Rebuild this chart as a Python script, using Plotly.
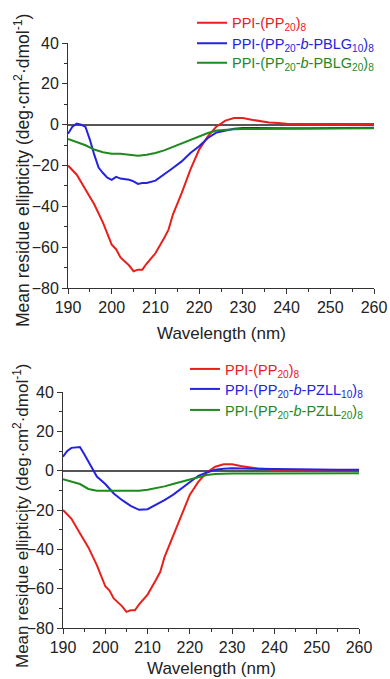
import plotly.graph_objects as go

# ---------------- data ----------------
# PPI-(PP20)8 (identical in both panels)
wl_pp20 = [190, 192, 194, 196, 198, 200, 201, 202, 204, 205, 206, 207, 208, 210, 212, 213, 214,
           216, 218, 220, 222, 224, 225, 226, 228, 230, 232, 234, 236, 238, 240, 245, 250, 255, 260]
pp20 = [-20, -24.5, -31.8, -39, -48, -58.8, -61, -65, -69, -71.8, -71, -71, -68, -63, -55.5, -51.4, -44,
        -33.5, -22, -12.2, -5.7, -0.8, 0.5, 2, 3.3, 3.3, 2.4, 1.6, 1.1, 0.8, 0.5, 0.3, 0.3, 0.3, 0.3]

# PPI-(PP20-b-PBLG10)8
wl_pblg10 = [190, 191, 192, 193, 194, 195, 196, 197, 198, 199, 200, 201, 202, 204, 205, 206, 207, 208,
             210, 212, 214, 216, 218, 220, 222, 224, 226, 228, 230, 235, 240, 245, 250, 255, 260]
pblg10 = [-4.5, -1, 0.5, 0, -1.1, -7.3, -14.7, -21, -23.7, -26, -27, -25.6, -26.4, -27, -27.8, -29, -28.6, -28.6,
          -27.4, -24.5, -21.2, -18, -13.9, -10.6, -6.5, -3.8, -2.8, -2, -1.6, -1.8, -1.8, -1.7, -1.6, -1.5, -1.5]

# PPI-(PP20-b-PBLG20)8
wl_pblg20 = [190, 192, 194, 196, 198, 200, 202, 204, 206, 208, 210, 212, 214, 216, 218, 220, 222, 224,
             226, 228, 230, 235, 240, 245, 250, 255, 260]
pblg20 = [-7, -8.7, -10.1, -12.2, -13.5, -14.2, -14.2, -14.7, -15.2, -14.7, -13.9, -12.6, -10.9, -9.3, -7.3,
          -5.7, -4.1, -2.9, -2.4, -2.2, -2.1, -2.1, -2, -2, -1.9, -1.9, -1.8]

# PPI-(PP20-b-PZLL10)8
wl_pzll10 = [190, 191, 192, 194, 195, 196, 197, 198, 200, 202, 204, 206, 208, 210, 212, 214, 216, 218,
             220, 222, 224, 226, 228, 230, 235, 240, 245, 250, 255, 260]
pzll10 = [7.1, 10, 11.6, 12, 8.5, 4.3, 0.9, -3, -6.8, -11.6, -15, -17.9, -19.9, -19.6, -17.4, -15, -12.3, -9,
          -5.6, -2.6, -0.9, 0.5, 1, 1.2, 1, 0.8, 0.7, 0.6, 0.5, 0.5]

# PPI-(PP20-b-PZLL20)8
wl_pzll20 = [190, 192, 194, 196, 198, 200, 202, 204, 206, 208, 210, 212, 214, 216, 218, 220, 222, 224,
             226, 228, 230, 235, 240, 245, 250, 255, 260]
pzll20 = [-4.3, -5.4, -6.8, -9.3, -10.2, -10.2, -10.2, -10.5, -10.4, -10.2, -9.7, -8.9, -8, -6.8, -5.6,
          -4.3, -3.1, -2.2, -1.7, -1.5, -1.4, -1.5, -1.5, -1.5, -1.4, -1.4, -1.3]

x_ticks = [190, 200, 210, 220, 230, 240, 250, 260]
y_ticks = [-80, -60, -40, -20, 0, 20, 40]

RED = "#e8201c"
BLUE = "#2424e0"
GREEN = "#1e8a1e"
FONT = "Liberation Sans, Arial, sans-serif"

W, H = 390, 679


def fx(px):
    return px / W


def fy(py):
    return 1 - py / H


def lab(txt, color):
    return f'<span style="color:{color}">{txt}</span>'


fig = go.Figure()

top_series = [
    (wl_pp20, pp20, RED, "PPI-(PP<sub>20</sub>)<sub>8</sub>"),
    (wl_pblg10, pblg10, BLUE, "PPI-(PP<sub>20</sub>-<i>b</i>-PBLG<sub>10</sub>)<sub>8</sub>"),
    (wl_pblg20, pblg20, GREEN, "PPI-(PP<sub>20</sub>-<i>b</i>-PBLG<sub>20</sub>)<sub>8</sub>"),
]
bot_series = [
    (wl_pp20, pp20, RED, "PPI-(PP<sub>20</sub>)<sub>8</sub>"),
    (wl_pzll10, pzll10, BLUE, "PPI-(PP<sub>20</sub>-<i>b</i>-PZLL<sub>10</sub>)<sub>8</sub>"),
    (wl_pzll20, pzll20, GREEN, "PPI-(PP<sub>20</sub>-<i>b</i>-PZLL<sub>20</sub>)<sub>8</sub>"),
]

# one legend per entry so the row spacing matches the reference
top_rows = [22.7, 43.3, 62.7]
bot_rows = [369, 389, 410]
leg_common = dict(bgcolor="rgba(0,0,0,0)", font=dict(family=FONT, size=14.5),
                  xanchor="left", yanchor="top", tracegroupgap=0, itemwidth=30)
legends = {}
k = 1
for (xs, ys, c, name), row in zip(top_series, top_rows):
    key = "legend" if k == 1 else f"legend{k}"
    fig.add_trace(go.Scatter(x=xs, y=ys, mode="lines", line=dict(color=c, width=2),
                             name=lab(name, c), xaxis="x", yaxis="y", legend=key))
    legends[key] = dict(leg_common, x=fx(192), y=fy(row - 16))
    k += 1
for (xs, ys, c, name), row in zip(bot_series, bot_rows):
    key = f"legend{k}"
    fig.add_trace(go.Scatter(x=xs, y=ys, mode="lines", line=dict(color=c, width=2),
                             name=lab(name, c), xaxis="x2", yaxis="y2", legend=key))
    legends[key] = dict(leg_common, x=fx(185), y=fy(row - 16))
    k += 1

axis_common = dict(
    showline=True, linecolor="#333", linewidth=1, showgrid=False, automargin=False,
    ticks="outside", ticklen=5, tickwidth=1, tickcolor="#333",
    tickfont=dict(family=FONT, size=16, color="#222"),
)
xcommon = dict(axis_common, range=[190, 260], tickvals=x_ticks,
               minor=dict(ticks="outside", ticklen=3, tickcolor="#333", dtick=5, tick0=190, showgrid=False),
               zeroline=False)
ycommon = dict(axis_common, range=[-80, 40], tickvals=y_ticks,
               minor=dict(ticks="outside", ticklen=3, tickcolor="#333", dtick=10, tick0=0, showgrid=False),
               zeroline=True, zerolinecolor="#555", zerolinewidth=1.5)

fig.update_layout(
    template="none",
    width=W, height=H,
    margin=dict(l=0, r=0, t=0, b=0, autoexpand=False),
    paper_bgcolor="white", plot_bgcolor="white",
    xaxis=dict(xcommon, domain=[fx(68), fx(374)], anchor="y"),
    yaxis=dict(ycommon, domain=[fy(288), fy(43)], anchor="x"),
    xaxis2=dict(xcommon, domain=[fx(63), fx(359)], anchor="y2"),
    yaxis2=dict(ycommon, domain=[fy(628), fy(392)], anchor="x2"),
    showlegend=True,
    **legends,
)

ytitle = "Mean residue ellipticity (deg·cm<sup>2</sup>·dmol<sup>-1</sup>)"
ann = [
    dict(text="Wavelength (nm)", x=fx(221), y=fy(333), xref="paper", yref="paper",
         showarrow=False, xanchor="center", yanchor="middle",
         font=dict(family=FONT, size=17, color="#222")),
    dict(text="Wavelength (nm)", x=fx(211), y=fy(668), xref="paper", yref="paper",
         showarrow=False, xanchor="center", yanchor="middle",
         font=dict(family=FONT, size=17, color="#222")),
    dict(text=ytitle, x=fx(22), y=fy(171), xref="paper", yref="paper", textangle=-90,
         showarrow=False, xanchor="center", yanchor="middle",
         font=dict(family=FONT, size=17.5, color="#222")),
    dict(text=ytitle, x=fx(21), y=fy(516), xref="paper", yref="paper", textangle=-90,
         showarrow=False, xanchor="center", yanchor="middle",
         font=dict(family=FONT, size=17, color="#222")),
]
fig.update_layout(annotations=ann)

fig.write_html("out.html", config={"displayModeBar": False},
               post_script="document.body.style.margin='0px';document.body.style.padding='0px';")
